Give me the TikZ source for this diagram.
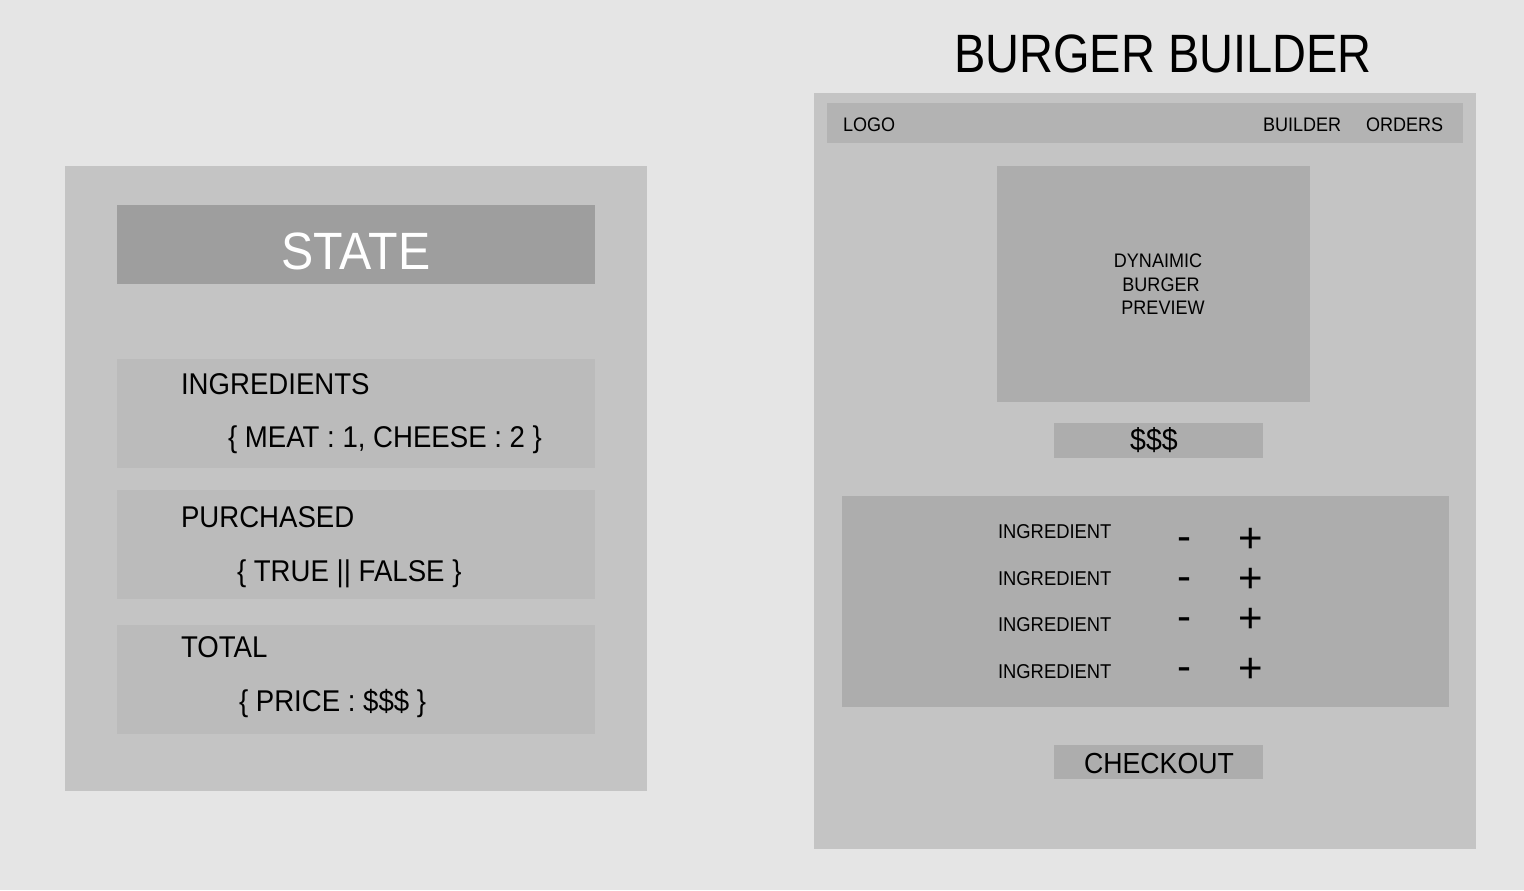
\documentclass[tikz,border=0pt]{standalone}
\usepackage{fontspec}
\setmainfont[FakeStretch=0.92]{Liberation Sans}
\newfontfamily\titlefont[FakeStretch=0.87]{Liberation Sans}
\newfontfamily\signfont{Liberation Sans}
\definecolor{bgc}{HTML}{E5E5E5}
\definecolor{panelc}{HTML}{C4C4C4}
\definecolor{headc}{HTML}{9E9E9E}
\definecolor{itemc}{HTML}{BBBBBB}
\definecolor{navc}{HTML}{B3B3B3}
\definecolor{boxc}{HTML}{ADADAD}
\begin{document}
\begin{tikzpicture}[x=0.5pt,y=-0.5pt,
  txt/.style={inner sep=0pt,outer sep=0pt,text=black},
  bigtxt/.style={txt,font=\fontsize{15}{18}\selectfont},
  smalltxt/.style={txt,font=\fontsize{9.8}{12}\selectfont},
  ingtxt/.style={txt,anchor=base west,font=\fontsize{10}{12}\selectfont},
  signtxt/.style={txt,font=\signfont\fontsize{21}{24}\selectfont,anchor=base}]
\fill[bgc] (0,0) rectangle (1524,890);
\useasboundingbox (0,0) rectangle (1524,890);
% ---------- left: state panel
\fill[panelc] (65,166) rectangle (647,791);
\fill[headc] (117,205) rectangle (595,284);
\node[txt,anchor=base,text=white,font=\fontsize{26.25}{30}\selectfont] (state) at (356,269.5) {STATE};
\fill[itemc] (117,359) rectangle (595,468);
\fill[itemc] (117,490) rectangle (595,599);
\fill[itemc] (117,625) rectangle (595,734);
\node[bigtxt,anchor=base west] (ingr) at (181,394.5) {INGREDIENTS};
\node[bigtxt,anchor=base west] (ingrv) at (228,447) {\{ MEAT : 1, CHEESE : 2 \}};
\node[bigtxt,anchor=base west] (purch) at (181,527) {PURCHASED};
\node[bigtxt,anchor=base west] (purchv) at (237,581.5) {\{ TRUE || FALSE \}};
\node[bigtxt,anchor=base west] (total) at (181,657.5) {TOTAL};
\node[bigtxt,anchor=base west] (totalv) at (239,711.5) {\{ PRICE : \$\$\$ \}};
% ---------- right: burger builder
\node[txt,anchor=base,font=\titlefont\fontsize{27}{30}\selectfont] (title) at (1163,72.3) {BURGER BUILDER};
\fill[panelc] (814,93) rectangle (1476,849);
\fill[navc] (827,103) rectangle (1463,143);
\node[smalltxt,anchor=base west] (logo) at (843,131) {LOGO};
\node[smalltxt,anchor=base west] (builder) at (1263,131) {BUILDER};
\node[smalltxt,anchor=base west] (orders) at (1366,131) {ORDERS};
\fill[boxc] (997,166) rectangle (1310,402);
\node[smalltxt,anchor=base] (prev1) at (1158,267.7) {DYNAIMIC};
\node[smalltxt,anchor=base] (prev2) at (1161,291) {BURGER};
\node[smalltxt,anchor=base] (prev3) at (1163,314) {PREVIEW};
\fill[boxc] (1054,423) rectangle (1263,457.5);
\node[txt,anchor=center,font=\fontsize{15.5}{18}\selectfont] (price) at (1154,440) {\$\$\$};
\fill[boxc] (842,496) rectangle (1449,707);
\node[ingtxt] (i1) at (998,538.3) {INGREDIENT};
\node[ingtxt] (i2) at (998,585) {INGREDIENT};
\node[ingtxt] (i3) at (998,631.7) {INGREDIENT};
\node[ingtxt] (i4) at (998,678.3) {INGREDIENT};
\node[signtxt] (m1) at (1184,550.2) {-};
\node[signtxt] (m2) at (1184,590.5) {-};
\node[signtxt] (m3) at (1184,630.2) {-};
\node[signtxt] (m4) at (1184,680.2) {-};
\node[signtxt] (p1) at (1250.5,552.5) {+};
\node[signtxt] (p2) at (1250.5,592.8) {+};
\node[signtxt] (p3) at (1250.5,632.1) {+};
\node[signtxt] (p4) at (1250.5,682.5) {+};
\fill[boxc] (1054,745) rectangle (1263,779);
\node[txt,anchor=base,font=\fontsize{14.5}{17}\selectfont] (checkout) at (1159,773.3) {CHECKOUT};
\end{tikzpicture}
\end{document}
